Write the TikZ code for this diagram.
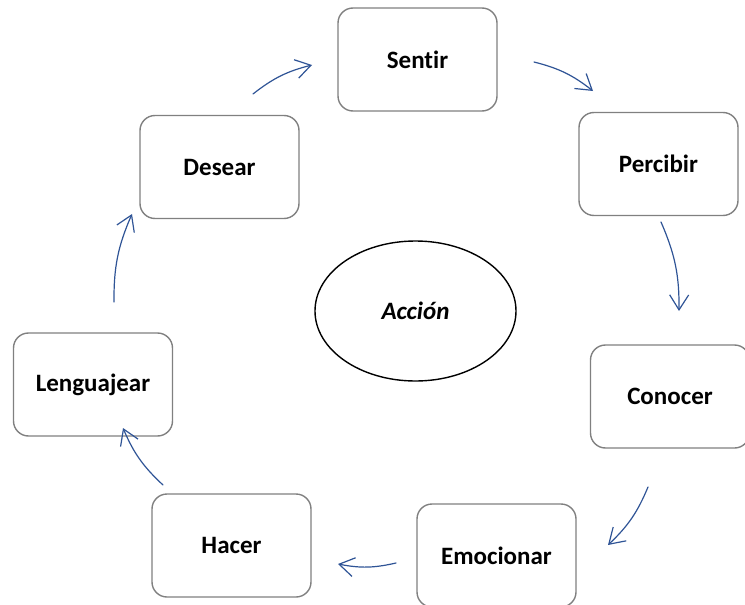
\documentclass[tikz,border=0pt]{standalone}
\usepackage{fontspec}
\setmainfont[Ligatures=NoCommon]{Carlito}
\usetikzlibrary{arrows.meta,shapes.geometric}
\definecolor{azul}{RGB}{47,84,150}
\definecolor{borde}{RGB}{128,128,128}
\begin{document}
\begin{tikzpicture}[x=1pt, y=-1pt, font=\fontsize{25}{30}\selectfont\bfseries, line join=round, line cap=round,
	caja/.style={draw=borde, line width=1.4pt, rounded corners=15pt, minimum width=159pt, minimum height=103pt},
	flecha/.style={azul, line width=1.2pt, -{Straight Barb[length=15pt,width=19pt]}, bend left=12}]
	\useasboundingbox (0,0) rectangle (745,605);
	\node[caja] (sentir) at (417.5,59.5) {Sentir};
	\node[caja] (percibir) at (658.5,164) {Percibir};
	\node[caja] (conocer) at (670,396.5) {Conocer};
	\node[caja] (emocionar) at (496.5,555.5) {Emocionar};
	\node[caja] (hacer) at (231.5,545.5) {Hacer};
	\node[caja] (lenguajear) at (93,384.5) {Lenguajear};
	\node[caja] (desear) at (219.5,167) {Desear};
	\node[ellipse, draw, line width=1.4pt, minimum width=201pt, minimum height=140pt] (accion) at (415.5,311) {\itshape Acción};
	% flechas del ciclo
	\foreach \xa/\ya/\xb/\yb [count=\i] in {253/94/312/65, 534/62/593/91, 661/222/679/311, 648/487/608/545, 396/563/338/564, 163/485/123/428, 114/302/132/214}
	{
		\coordinate (f\i a) at (\xa,\ya);
		\coordinate (f\i b) at (\xb,\yb);
		\draw[flecha] (f\i a) to (f\i b);
	}
\end{tikzpicture}
\end{document}
